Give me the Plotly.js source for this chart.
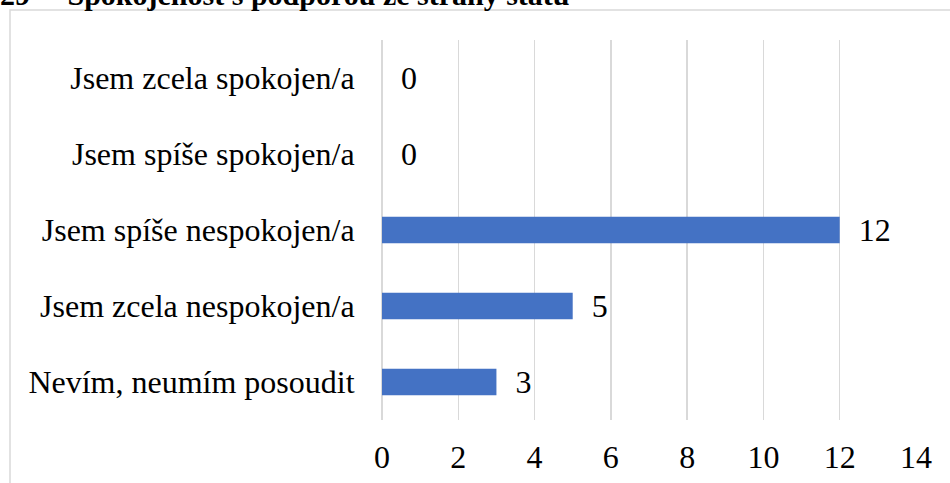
<!DOCTYPE html>
<html><head><meta charset="utf-8">
<script src="https://cdn.plot.ly/plotly-3.0.1.min.js"></script>
<style>html,body{margin:0;padding:0;background:#fff}</style>
</head><body>
<div id="chart" style="width:950px;height:483px"></div>
<script>
const categories = ["Nevím, neumím posoudit", "Jsem zcela nespokojen/a", "Jsem spíše nespokojen/a", "Jsem spíše spokojen/a", "Jsem zcela spokojen/a"];
const values = [3, 5, 12, 0, 0];
const tickVals = [0, 2, 4, 6, 8, 10, 12, 14];
const titleText = "29&nbsp;&nbsp;&nbsp;&nbsp;&nbsp;Spokojenost s podporou ze strany státu";

const FAM = "'Liberation Serif', 'Times New Roman', serif";
const font = {family: FAM, size: 32, color: "#000"};
const trace = {
  type: "bar", orientation: "h", y: categories, x: values,
  marker: {color: "#4472c4"}, width: 0.35,
  text: values.map(v => "\u2002" + v), textposition: "outside", cliponaxis: false,
  constraintext: "none",
  textfont: font, outsidetextfont: font, hoverinfo: "skip"
};
const L = 382, R = 34, T = 40, B = 63, W = 950, H = 483;
const pw = W - L - R, ph = H - T - B;
const layout = {
  width: W, height: H, margin: {l: L, r: R, t: T, b: B},
  paper_bgcolor: "#fff", plot_bgcolor: "#fff",
  font: font, showlegend: false,
  xaxis: {range: [0, 14], tickvals: tickVals, showgrid: true, gridcolor: "#d9d9d9", gridwidth: 1.5,
          zeroline: true, zerolinecolor: "#d9d9d9", zerolinewidth: 1.5, showline: false,
          ticks: "outside", ticklen: 9, tickcolor: "rgba(0,0,0,0)", tickfont: font, fixedrange: true},
  yaxis: {showgrid: false, zeroline: false, showline: false, ticks: "outside", ticklen: 20,
          tickcolor: "rgba(0,0,0,0)", tickfont: font, fixedrange: true},
  shapes: [{type: "rect", xref: "paper", yref: "paper",
            x0: (10 - L) / pw, x1: 1.5, y0: -0.5, y1: 1 + (T - 10) / ph,
            line: {color: "#d9d9d9", width: 1.5}, fillcolor: "rgba(0,0,0,0)", layer: "below"}],
  annotations: [{text: "<b>" + titleText + "</b>", xref: "paper", yref: "paper",
                 x: (-2 - L) / pw, xanchor: "left", y: 1 + (T - 13) / ph, yanchor: "bottom",
                 showarrow: false, font: {family: FAM, size: 30, color: "#000"}}]
};
Plotly.newPlot("chart", [trace], layout, {displayModeBar: false, staticPlot: true});
</script>
</body></html>
